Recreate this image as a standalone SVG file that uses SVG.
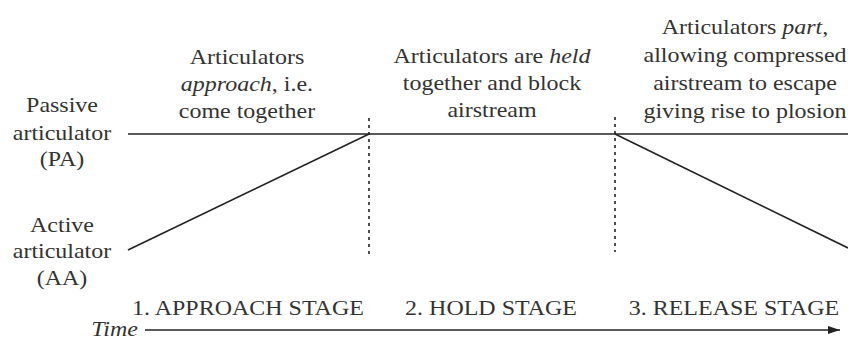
<svg xmlns="http://www.w3.org/2000/svg" width="848" height="340" viewBox="0 0 848 340">
<defs>
<style>
.t{font-family:"Liberation Serif","Times New Roman",serif;font-size:22px;fill:#333;text-anchor:middle}
.e{text-anchor:end}
.i{font-style:italic}
.ln{stroke:#222;stroke-width:1.6;fill:none}
.dot{stroke:#222;stroke-width:1.6;stroke-dasharray:3 4;fill:none}
</style>
<marker id="arr" markerWidth="12" markerHeight="8" refX="12" refY="4" orient="auto" markerUnits="userSpaceOnUse">
<path d="M0,0 L12,4 L0,8 Z" fill="#222"/>
</marker>
</defs>
<rect width="848" height="340" fill="#fff"/>
<g id="connectors">
<line class="ln" x1="128" y1="134" x2="848" y2="134"/>
<line class="ln" x1="128" y1="250" x2="369" y2="134"/>
<line class="ln" x1="615" y1="134" x2="848" y2="248"/>
<line class="dot" x1="369" y1="118" x2="369" y2="256"/>
<line class="dot" x1="615" y1="117" x2="615" y2="252"/>
<line class="ln" x1="145" y1="330" x2="840" y2="330" marker-end="url(#arr)"/>
</g>
<g id="pa-label">
<text class="t" transform="scale(1.09,1)" x="56.9" y="112">Passive</text>
<text class="t" transform="scale(1.09,1)" x="56.9" y="140">articulator</text>
<text class="t" transform="scale(1.09,1)" x="56.9" y="166">(PA)</text>
</g>
<g id="aa-label">
<text class="t" transform="scale(1.09,1)" x="56.9" y="232">Active</text>
<text class="t" transform="scale(1.09,1)" x="56.9" y="258">articulator</text>
<text class="t" transform="scale(1.09,1)" x="56.9" y="285">(AA)</text>
</g>
<g id="approach-desc">
<text class="t" transform="scale(1.09,1)" x="226.6" y="64">Articulators</text>
<text class="t" transform="scale(1.09,1)" x="226.6" y="91"><tspan class="i">approach</tspan>, i.e.</text>
<text class="t" transform="scale(1.09,1)" x="226.6" y="118">come together</text>
</g>
<g id="hold-desc">
<text class="t" transform="scale(1.09,1)" x="451.4" y="63">Articulators are <tspan class="i">held</tspan></text>
<text class="t" transform="scale(1.09,1)" x="451.4" y="90">together and block</text>
<text class="t" transform="scale(1.09,1)" x="451.4" y="117">airstream</text>
</g>
<g id="release-desc">
<text class="t" transform="scale(1.09,1)" x="683.5" y="34">Articulators <tspan class="i">part,</tspan></text>
<text class="t" transform="scale(1.09,1)" x="683.5" y="62">allowing compressed</text>
<text class="t" transform="scale(1.09,1)" x="683.5" y="90">airstream to escape</text>
<text class="t" transform="scale(1.09,1)" x="683.5" y="118">giving rise to plosion</text>
</g>
<g id="stage1"><text class="t" transform="scale(1.09,1)" x="227.5" y="315">1. APPROACH STAGE</text></g>
<g id="stage2"><text class="t" transform="scale(1.09,1)" x="450.5" y="315">2. HOLD STAGE</text></g>
<g id="stage3"><text class="t" transform="scale(1.09,1)" x="673.4" y="315">3. RELEASE STAGE</text></g>
<g id="time-label"><text class="t e i" transform="scale(1.09,1)" x="126.6" y="336">Time</text></g>
</svg>
